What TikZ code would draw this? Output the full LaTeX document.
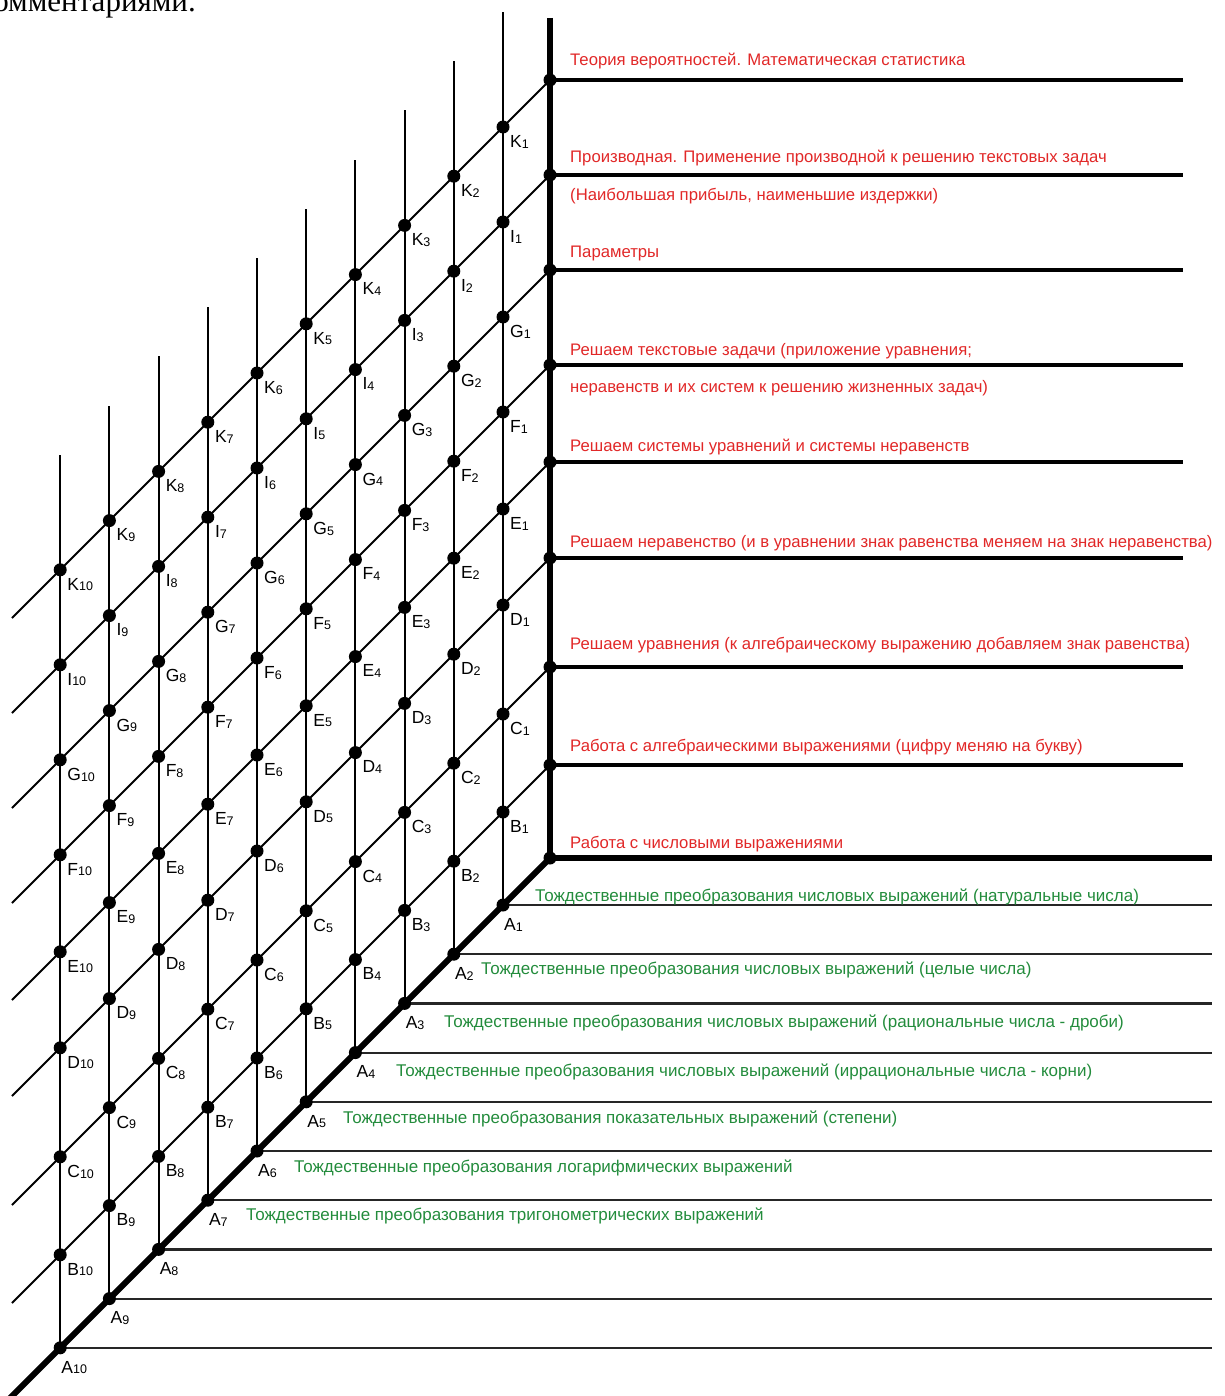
\documentclass[tikz,border=0pt]{standalone}
\usepackage{fontspec}
\setmainfont{Liberation Sans}
\newfontfamily\bodyserif{Liberation Serif}
\usetikzlibrary{backgrounds}
\definecolor{topicred}{RGB}{225,40,40}
\definecolor{topicgreen}{RGB}{35,140,60}
\newcommand{\ptsub}[1]{\raisebox{-0.8pt}{\fontsize{12.5}{13}\selectfont #1}}

\begin{document}
\begin{tikzpicture}[x=1pt,y=-1pt,
  gridline/.style={line width=1.9pt},
  axisline/.style={line width=6pt},
  levelline/.style={line width=4pt},
  subline/.style={line width=2.2pt, color=black!85},
  dot/.style={circle, fill=black, inner sep=0pt, minimum size=13pt},
  ptlabel/.style={anchor=north west, inner sep=0pt, font=\fontsize{17.5}{18}\selectfont},
  redtxt/.style={anchor=base west, inner sep=0pt, text=topicred, font=\fontsize{16.7}{18}\selectfont},
  greentxt/.style={anchor=base west, inner sep=0pt, text=topicgreen, font=\fontsize{17}{18}\selectfont},
]
\useasboundingbox (0,0) rectangle (1224,1396);
\clip (0,0) rectangle (1224,1396);

% caption fragment at the top edge
\node[anchor=base east, inner sep=0pt, font=\bodyserif\fontsize{31}{33}\selectfont] (cap) at (196,12) {омментариями.};

% corner of the three axes
\node[dot] (O) at (550,858) {};
\coordinate (axtop) at (550,18);
\coordinate (axright) at (1212,858);
\coordinate (axend) at (-5,1413);

% levels on the vertical axis and the points along their diagonals
\foreach \L/\y in {K/80,I/175,G/270,F/365,E/462,D/558,C/667,B/765} {
  \node[dot] (ax\L) at (550,\y) {};
  \coordinate (r\L) at (1183,\y);
  \coordinate (e\L) at (12,\y+538);
  \foreach \i in {1,...,10} {
    \pgfmathsetmacro\d{47+49.2*(\i-1)}
    \node[dot] (\L\i) at (550-\d,\y+\d) {};
    \node[ptlabel] (lbl\L\i) at ([shift={(7,8)}]\L\i.center) {\L\ptsub{\i}};
  }
}

% points on the thick diagonal axis
\foreach \i in {1,...,10} {
  \pgfmathsetmacro\d{47+49.2*(\i-1)}
  \node[dot] (A\i) at (550-\d,858+\d) {};
  \node[ptlabel] (lblA\i) at ([shift={(1,13)}]A\i.center) {A\ptsub{\i}};
  \coordinate (s\i) at (1212,858+\d);
  \coordinate (t\i) at (550-\d,\d-35);
}

\begin{scope}[on background layer]
  \foreach \L in {K,I,G,F,E,D,C,B} {
    \draw[gridline] (ax\L.center) -- (e\L);
    \draw[levelline] (ax\L.center) -- (r\L);
  }
  \foreach \i in {1,...,10} {
    \draw[gridline] (A\i.center) -- (t\i);
    \draw[subline] (A\i.center) -- (s\i);
  }
  \draw[axisline] (axtop) -- (O.center);
  \draw[axisline] (O.center) -- (axright);
  \draw[axisline] (O.center) -- (axend);
\end{scope}

% topics above the vertical axis
\node[redtxt] (t1) at (570,66) {Теория вероятностей. Математическая статистика};
\node[redtxt] (t2) at (570,163) {Производная. Применение производной к решению текстовых задач};
\node[redtxt] (t3) at (570,201) {(Наибольшая прибыль, наименьшие издержки)};
\node[redtxt] (t4) at (570,258) {Параметры};
\node[redtxt] (t5) at (570,355) {Решаем текстовые задачи (приложение уравнения;};
\node[redtxt] (t6) at (570,392) {неравенств и их систем к решению жизненных задач)};
\node[redtxt] (t7) at (570,451) {Решаем системы уравнений и системы неравенств};
\node[redtxt] (t8) at (570,547) {Решаем неравенство (и в уравнении знак равенства меняем на знак неравенства)};
\node[redtxt] (t9) at (570,649) {Решаем уравнения (к алгебраическому выражению добавляем знак равенства)};
\node[redtxt] (t10) at (570,751) {Работа с алгебраическими выражениями (цифру меняю на букву)};
\node[redtxt] (t11) at (570,848) {Работа с числовыми выражениями};

% transformations along the diagonal axis
\node[greentxt] (g1) at (535,901) {Тождественные преобразования числовых выражений (натуральные числа)};
\node[greentxt] (g2) at (481,974) {Тождественные преобразования числовых выражений (целые числа)};
\node[greentxt] (g3) at (444,1027) {Тождественные преобразования числовых выражений (рациональные числа - дроби)};
\node[greentxt] (g4) at (396,1076) {Тождественные преобразования числовых выражений (иррациональные числа - корни)};
\node[greentxt] (g5) at (343,1123) {Тождественные преобразования показательных выражений (степени)};
\node[greentxt] (g6) at (294,1172) {Тождественные преобразования логарифмических выражений};
\node[greentxt] (g7) at (246,1220) {Тождественные преобразования тригонометрических выражений};
\end{tikzpicture}
\end{document}
